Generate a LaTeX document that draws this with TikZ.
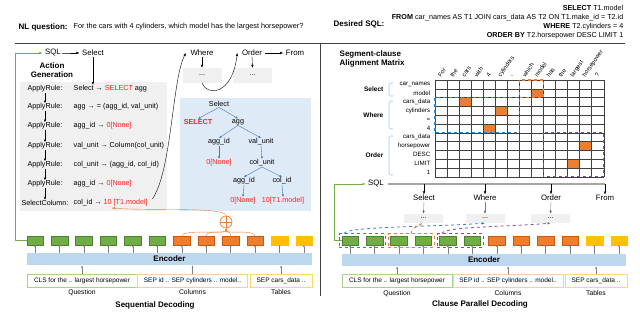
\documentclass[tikz,border=0pt]{standalone}
\usepackage{fontspec}
\setmainfont{Liberation Sans}
\usetikzlibrary{arrows.meta,fit,positioning}
\definecolor{tokGreen}{HTML}{70AD47}
\definecolor{tokGreenD}{HTML}{507E32}
\definecolor{tokOrange}{HTML}{ED7D31}
\definecolor{tokOrangeD}{HTML}{C55A11}
\definecolor{tokYellow}{HTML}{FFC000}
\definecolor{encBlue}{HTML}{BDD7EE}
\definecolor{treeBg}{HTML}{DEEBF7}
\definecolor{treeArrow}{HTML}{4472C4}
\definecolor{redTxt}{HTML}{FF2020}
\definecolor{boxGray}{HTML}{F0F0F0}
\definecolor{inGreen}{HTML}{A9D18E}
\definecolor{inOrange}{HTML}{F8CBAD}
\definecolor{inYellow}{HTML}{FFD966}
\definecolor{dashBlue}{HTML}{1F87DB}
\definecolor{dashPurple}{HTML}{8E44AD}
\definecolor{bracketBlue}{HTML}{9DC3E6}
\newcommand{\redtxt}[1]{\textcolor{redTxt}{#1}}

\tikzset{
  txt/.style={font=\fontsize{7.2}{8.5}\selectfont, inner sep=0.5pt},
  lbl/.style={font=\fontsize{7.8}{9}\selectfont, inner sep=0.5pt},
  hd/.style={font=\fontsize{8}{9.5}\selectfont\bfseries, inner sep=0.5pt},
  sml/.style={font=\fontsize{6.2}{7}\selectfont, inner sep=0.5pt},
  inp/.style={font=\fontsize{6.5}{7.5}\selectfont, inner sep=0.5pt},
  arr/.style={-{Latex[length=3pt,width=2.4pt]}},
  garr/.style={-{Latex[length=2.2pt,width=2pt]}, gray},
  tarr/.style={-{Latex[length=2.5pt,width=2.2pt]}, treeArrow},
  tok/.style={rectangle, minimum width=16.5pt, minimum height=8.5pt, inner sep=0pt, line width=0.4pt},
  gtok/.style={tok, fill=tokGreen, draw=tokGreenD},
  otok/.style={tok, fill=tokOrange, draw=tokOrangeD},
  ytok/.style={tok, fill=tokYellow, draw=tokYellow},
  dotbox/.style={txt, fill=boxGray, minimum width=39pt, minimum height=15pt},
  inbox/.style={inp, draw, minimum height=13pt, line width=0.6pt},
  grpbox/.style={draw, dashed, line width=0.8pt, inner sep=2.2pt, rectangle},
  enc/.style={fill=encBlue, minimum height=12pt, font=\fontsize{8}{9.5}\selectfont\bfseries},
  grp/.style={font=\fontsize{6.5}{7.5}\selectfont\bfseries, inner sep=0.5pt, anchor=east},
}

\begin{document}
\begin{tikzpicture}[x=1pt, y=-1pt]
  \useasboundingbox (0,0) rectangle (640,312);

  % header
  \node[hd, anchor=west] (nlq) at (18,27) {NL question:};
  \node[txt, anchor=west, font=\fontsize{7.3}{8.5}\selectfont] (qtext) at (73,27) {For the cars with 4 cylinders, which model has the largest horsepower?};
  \node[hd, anchor=west] (dsql) at (333,24) {Desired SQL:};
  \node[txt, anchor=east] (sql1) at (624,8) {\textbf{SELECT} T1.model};
  \node[txt, anchor=east] (sql2) at (624,17.5) {\textbf{FROM} car\_names AS T1 JOIN cars\_data AS T2 ON T1.make\_id = T2.id};
  \node[txt, anchor=east] (sql3) at (624,26.5) {\textbf{WHERE} T2.cylinders = 4};
  \node[txt, anchor=east] (sql4) at (624,35.5) {\textbf{ORDER BY} T2.horsepower DESC LIMIT 1};
  \draw[black!75, line width=1pt] (15,44) -- (625,44);
  \draw[black!75, line width=1pt] (320,44) -- (320,296);

  % ---- sequential decoding ----
  \fill[boxGray] (20,82) rectangle (167,211);
  \fill[treeBg] (180,98) rectangle (311,211);

  \node[lbl] (sqlL) at (53,53) {SQL};
  \node[lbl] (selL) at (93,53) {Select};
  \node[lbl] (whr) at (202,53) {Where};
  \node[lbl] (ord) at (252,53) {Order};
  \node[lbl] (frm) at (295,53) {From};
  \draw[arr] (sqlL.east) -- ++(3,0) -- ([xshift=-2pt]selL.west);
  \draw[arr] ([xshift=2pt]ord.east) -- ([xshift=-2pt]frm.west);
  \node[hd, align=center] (actgen) at (52,70) {Action\\Generation};
  \node[dotbox] (d1) at (202,75.5) {...};
  \node[dotbox] (d2) at (252.5,75.5) {...};
  \draw[arr] (whr.south) -- (d1.north);
  \draw[arr] (ord.south) -- (d2.north);

  \foreach \i/\y/\rl/\ex in {
      1/89/ApplyRule:/{Select → \redtxt{SELECT} agg},
      2/107/ApplyRule:/{agg → = (agg\_id, val\_unit)},
      3/126/ApplyRule:/{agg\_id → \redtxt{0[None]}},
      4/146/ApplyRule:/{val\_unit → Column(col\_unit)},
      5/165/ApplyRule:/{col\_unit → (agg\_id, col\_id)},
      6/184/ApplyRule:/{agg\_id → \redtxt{0[None]}},
      7/203/SelectColumn:/{col\_id → \redtxt{10 [T1.model]}}}{
    \node[txt] (r\i) at (45,\y) {\rl};
    \node[txt, anchor=west] (e\i) at (73,\y) {\ex};
  }
  \foreach \i [count=\j from 2] in {1,...,6}
    \draw[-{Latex[length=2.2pt,width=2.2pt]}] (r\i.south) -- (r\j.north);
  \draw[arr] (selL.south) -- (selL.south |- e1.north);
  \draw[arr] ([xshift=4pt]e7.north east) .. controls (172,170) and (172,80) .. ([xshift=-4pt]whr.west);
  \draw[arr] (d1.south) .. controls (207,96) and (232,96) .. ([xshift=-4pt]ord.west);

  % tree
  \node[txt] (t0) at (219,104) {Select};
  \node[txt, font=\fontsize{7.2}{8.5}\selectfont\bfseries] (t1) at (198,122) {\redtxt{SELECT}};
  \node[txt] (t2) at (238,122) {agg};
  \node[txt] (t3) at (219,142) {agg\_id};
  \node[txt] (t4) at (261,142) {val\_unit};
  \node[txt] (t5) at (219,163) {\redtxt{0[None]}};
  \node[txt] (t6) at (262,163) {col\_unit};
  \node[txt] (t7) at (244,181) {agg\_id};
  \node[txt] (t8) at (282,181) {col\_id};
  \node[txt] (t9) at (243,201) {\redtxt{0[None]}};
  \node[txt] (t10) at (283,201) {\redtxt{10[T1.model]}};
  \foreach \a/\b in {t0/t1,t0/t2,t2/t3,t2/t4,t3/t5,t4/t6,t6/t7,t6/t8,t7/t9,t8/t10}
    \draw[tarr] (\a.south) -- (\b.north);

  % tokens and encoder
  \foreach \i/\st in {0/gtok,1/gtok,2/gtok,3/gtok,4/gtok,5/gtok,6/otok,7/otok,8/otok,9/otok,10/ytok,11/ytok}{
    \node[\st] (L\i) at ({35+24.45*\i},240.5) {};
    \node[\st] (R\i) at ({350+24.45*\i},240.5) {};
  }
  \node[enc, minimum width=285pt] (encL) at (169.5,259) {Encoder};
  \node[enc, minimum width=284pt] (encR) at (484,260) {Encoder};
  \foreach \i in {0,...,11}{
    \draw[garr] (L\i.south |- encL.north) -- (L\i.south);
    \draw[garr] (R\i.south |- encR.north) -- (R\i.south);
  }
  \draw[tokGreen, arr] (L0.west) -- ++(-11,0) |- ([xshift=-2pt]sqlL.west);

  % pointer to the column
  \node[circle, draw=tokOrange, minimum size=12pt, inner sep=0pt, line width=0.7pt] (plus) at (226,222) {};
  \draw[tokOrange, line width=0.6pt] (plus.north) -- (plus.south) (plus.west) -- (plus.east);
  \foreach \i in {6,...,9}
    \draw[tokOrange, -{Latex[length=2.4pt,width=2.4pt]}] (L\i.north) .. controls +(0,-7) and +(0,6) .. (plus.south);
  \draw[tokOrange, arr] (plus.north) .. controls +(0,-9) and +(40,3) .. ([xshift=1pt,yshift=-1pt]e7.south);

  % inputs
  \node[inbox, draw=inGreen, minimum width=110pt] (qL) at (82,280.5) {CLS for the .. largest horsepower};
  \node[inbox, draw=inOrange, minimum width=110pt] (cL) at (192.5,280.5) {SEP id .. SEP cylinders .. model..};
  \node[inbox, draw=inYellow, minimum width=62pt] (tL) at (281,280.5) {SEP cars\_data ..};
  \foreach \b/\lb in {qL/Question,cL/Columns,tL/Tables}{
    \draw[garr] (\b.north) -- (\b.north |- encL.south);
    \node[inp, font=\fontsize{6.8}{8}\selectfont, below=2pt of \b] (\b lab) {\lb};
  }
  \node[hd] (capL) at (155,305) {Sequential Decoding};

  % ---- clause parallel decoding ----
  \node[hd, align=left, anchor=north west] (smat) at (339,50) {Segment-clause\\Alignment Matrix};
  \foreach \c/\r in {8/1,2/2,5/3,4/5,12/7,11/9}
    \draw[fill=tokOrange, draw=tokOrangeD] ({435+12.05*\c},{80+8.8*\r}) rectangle +(12.05,8.8);
  \foreach \c in {0,...,14}
    \draw[black!75, line width=0.4pt] ({435+12.05*\c},80) -- ({435+12.05*\c},176.8);
  \foreach \r in {0,...,11}
    \draw[black!75, line width=0.4pt] (435,{80+8.8*\r}) -- (603.7,{80+8.8*\r});
  \draw[tokOrange, dashed, line width=1.2pt] ({435+12.05*7},80) rectangle ({435+12.05*9},{80+8.8*2});
  \draw[dashBlue, dashed, line width=1.2pt] (435,{80+8.8*2}) rectangle ({435+12.05*7},{80+8.8*6});
  \draw[dashPurple, dashed, line width=1.2pt] ({435+12.05*9},{80+8.8*6}) rectangle ({435+12.05*14},{80+8.8*11});
  \foreach \r/\lb in {0/car\_names,1/model,2/cars\_data,3/cylinders,4/=,5/4,6/cars\_data,7/horsepower,8/DESC,9/LIMIT,10/1}
    \node[sml, anchor=east] (row\r) at (431,{84.4+8.8*\r}) {\lb};
  \foreach \c/\lb in {0/For,1/the,2/cars,3/with,4/4,5/cylinders,6/{,},7/which,8/model,9/has,10/the,11/largest,12/horsepower,13/?}
    \node[sml, font=\fontsize{6}{7}\selectfont, anchor=west, rotate=55] (col\c) at ({439+12.05*\c},77) {\lb};
  \node[grp] (gSel) at (384,89) {Select};
  \node[grp] (gWhr) at (384,115) {Where};
  \node[grp] (gOrd) at (384,155) {Order};
  \draw[bracketBlue, line width=0.6pt, rounded corners=1.5pt] (393,83) -| (389,96) -- (393,96);
  \draw[bracketBlue, line width=0.6pt, rounded corners=1.5pt] (393,101) -| (389,129) -- (393,129);
  \draw[bracketBlue, line width=0.6pt, rounded corners=1.5pt] (393,136) -| (389,175) -- (393,175);

  \node[lbl] (sqlR) at (376,184) {SQL};
  \coordinate (sqlEnd) at (605,184);
  \draw[gray!70, line width=1.2pt] ([xshift=3pt]sqlR.east) -- (sqlEnd);
  \draw[tokGreen, arr] (R0.west) -- ++(-7,0) |- ([xshift=-2pt]sqlR.west);
  \node[lbl] (sS) at (424,198) {Select};
  \node[lbl] (sW) at (485,198) {Where};
  \node[lbl] (sO) at (551,198) {Order};
  \node[lbl] (sF) at (605,198) {From};
  \node[dotbox, minimum height=9pt] (dS) at (423.5,218.5) {...};
  \node[dotbox, minimum height=9pt] (dW) at (485,218.5) {...};
  \node[dotbox, minimum height=9pt] (dO) at (550.5,218.5) {...};
  \foreach \n in {sS,sW,sO,sF}
    \draw[arr] (\n.north |- sqlEnd) -- (\n.north);
  \foreach \n/\d in {sS/dS,sW/dW,sO/dO}
    \draw[gray, -{Latex[length=3pt,width=2.4pt,fill=black]}] (\n.south) -- (\d.north);

  \node[grpbox, draw=dashBlue, fit=(R0)(R1)] (gB) {};
  \node[grpbox, draw=tokOrange, fit=(R2)(R3)] (gO) {};
  \node[grpbox, draw=dashPurple, fit=(R4)(R5)] (gP) {};
  \draw[dashBlue, dashed, line width=0.8pt, arr] ([xshift=5pt]gB.north west) .. controls +(4,-7) and +(-60,4) .. (dW.south);
  \draw[tokOrange, dashed, line width=0.8pt, arr] (gO.north) .. controls +(0,-5) and +(-5,3) .. ([xshift=-1pt]dS.south);
  \draw[dashPurple, dashed, line width=0.8pt, arr] ([xshift=5pt]gP.north west) .. controls +(4,-7) and +(-50,4) .. (dO.south);

  \node[inbox, draw=inGreen, minimum width=110pt] (qR) at (397,281) {CLS for the .. largest horsepower};
  \node[inbox, draw=inOrange, minimum width=110pt] (cR) at (508,281) {SEP id .. SEP cylinders .. model..};
  \node[inbox, draw=inYellow, minimum width=62pt] (tR) at (596,281) {SEP cars\_data ..};
  \foreach \b/\lb in {qR/Question,cR/Columns,tR/Tables}{
    \draw[garr] (\b.north) -- (\b.north |- encR.south);
    \node[inp, font=\fontsize{6.8}{8}\selectfont, below=2pt of \b] (\b lab) {\lb};
  }
  \node[hd] (capR) at (480,304) {Clause Parallel Decoding};
\end{tikzpicture}
\end{document}
